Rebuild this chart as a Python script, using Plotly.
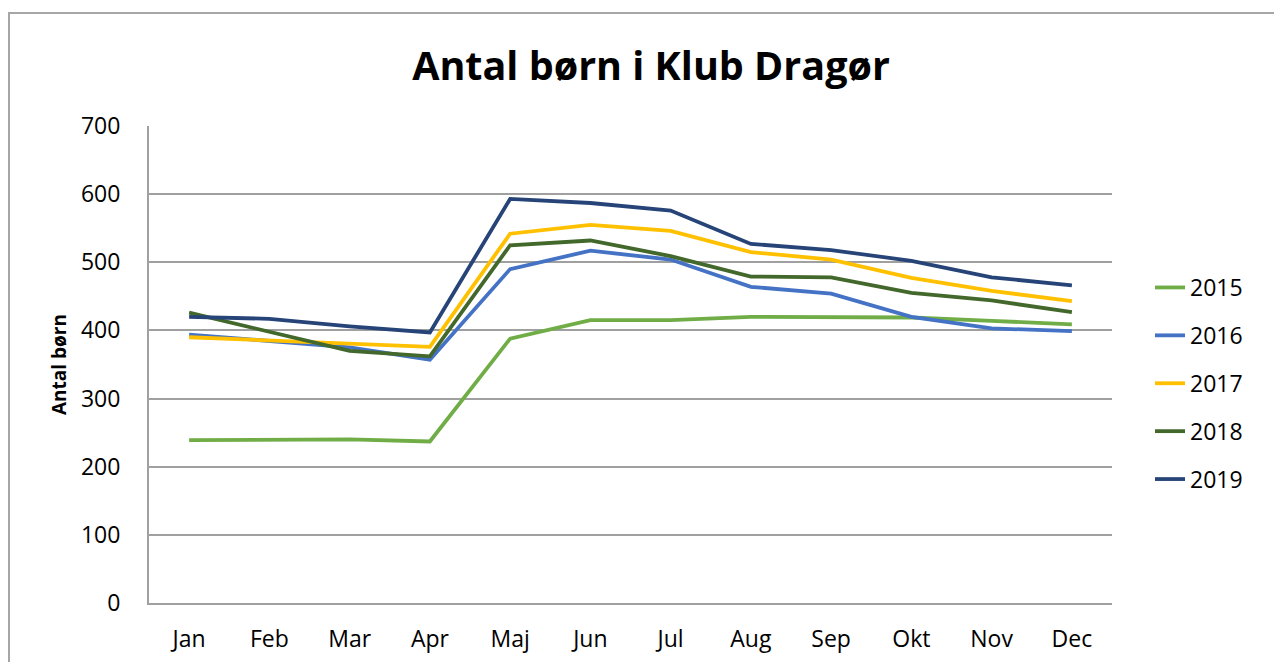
import plotly.graph_objects as go

months = ["Jan", "Feb", "Mar", "Apr", "Maj", "Jun", "Jul", "Aug", "Sep", "Okt", "Nov", "Dec"]
y2015 = [239, 239, 240, 237, 388, 415, 415, 420, 419, 419, 414, 409]
y2016 = [394, 385, 375, 357, 490, 517, 504, 464, 454, 420, 403, 399]
y2017 = [390, 385, 380, 376, 542, 555, 546, 515, 504, 477, 458, 443]
y2018 = [426, 398, 370, 362, 525, 532, 509, 479, 478, 455, 444, 427]
y2019 = [420, 417, 406, 397, 593, 587, 576, 527, 518, 502, 478, 466]

series = [
    ("2015", y2015, "#70AD47"),
    ("2016", y2016, "#4472C4"),
    ("2017", y2017, "#FFC000"),
    ("2018", y2018, "#43682B"),
    ("2019", y2019, "#264478"),
]

FONT = "Open Sans, Lato, sans-serif"

fig = go.Figure()
for name, vals, col in series:
    fig.add_trace(go.Scatter(
        x=months, y=vals, name=name, mode="lines",
        line=dict(color=col, width=3.8),
        legendgroup=name,
    ))

# page body has an 8px margin; compensate so the picture lands at the same pixels
OFF = 8
W, H = 1282 - OFF, 662 - OFF
L, T = 149 - OFF, 126 - OFF
R, B = 170, 59
pw = W - L - R
ph = H - T - B

def px_x(x):
    return (x - OFF - L) / pw

def px_y(y):
    return (603 - y) / ph

fig.update_layout(
    width=W, height=H,
    margin=dict(l=L, r=R, t=T, b=B, autoexpand=False),
    paper_bgcolor="white", plot_bgcolor="white",
    font=dict(family=FONT, size=23, color="#000000"),
    title=dict(text="<b>Antal børn i Klub Dragør</b>", x=(651 - OFF) / W, xanchor="center",
               y=1 - (66 - OFF) / H, yanchor="middle",
               font=dict(family=FONT, size=39.5, color="#000000")),
    showlegend=True,
    legend=dict(x=px_x(1150), xanchor="left", y=px_y(266), yanchor="top",
                font=dict(family=FONT, size=23), tracegroupgap=15,
                bgcolor="rgba(0,0,0,0)"),
    xaxis=dict(type="category", range=[-0.5, 11.5], showgrid=False, showline=True,
               linecolor="#A0A0A0", linewidth=2, ticks="", ticklabelstandoff=14,
               tickfont=dict(family=FONT, size=23), zeroline=False, automargin=False),
    yaxis=dict(range=[0, 700], dtick=100, showgrid=True, gridcolor="#A0A0A0",
               gridwidth=2, showline=True, linecolor="#A0A0A0", linewidth=2,
               ticks="", ticklabelstandoff=22, zeroline=False, automargin=False,
               tickfont=dict(family=FONT, size=23),
               title=dict(text="<b>Antal børn</b>", standoff=9,
                          font=dict(family=FONT, size=19))),
)

# outer chart border
fig.add_shape(type="rect", xref="paper", yref="paper",
              x0=px_x(9), x1=px_x(1300),
              y0=px_y(690), y1=px_y(13),
              line=dict(color="#A6A6A6", width=2), fillcolor="rgba(0,0,0,0)", layer="below")

fig.write_html("out.html")
